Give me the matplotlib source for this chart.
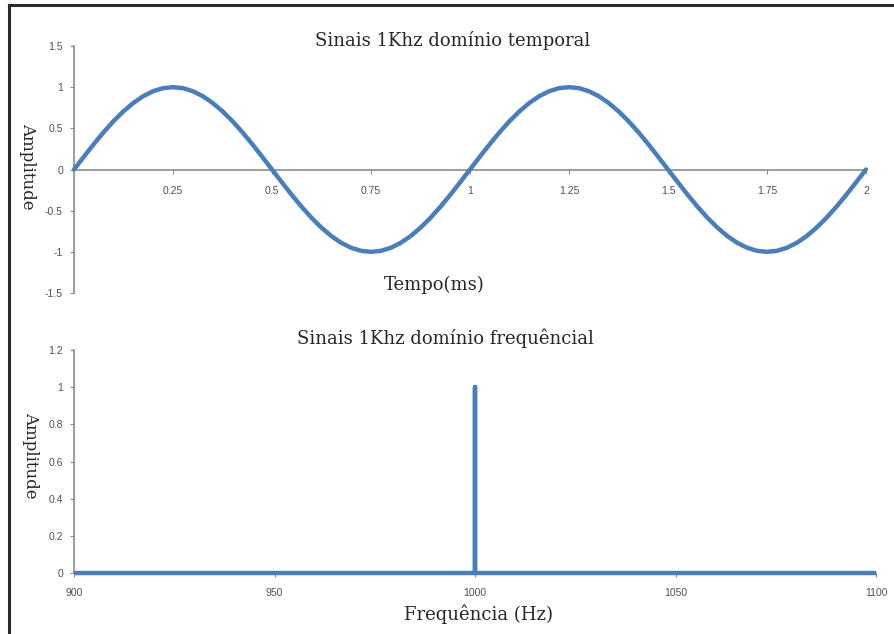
import numpy as np
import matplotlib
matplotlib.use("Agg")
import matplotlib.pyplot as plt
from matplotlib.lines import Line2D

# ---- data ----
time_ms = np.round(np.arange(0, 2.0001, 0.025), 3)
amplitude_time = [
    0.0, 0.156, 0.309, 0.454, 0.588, 0.707, 0.809, 0.891, 0.951, 0.988,
    1.0, 0.988, 0.951, 0.891, 0.809, 0.707, 0.588, 0.454, 0.309, 0.156,
    0.0, -0.156, -0.309, -0.454, -0.588, -0.707, -0.809, -0.891, -0.951, -0.988,
    -1.0, -0.988, -0.951, -0.891, -0.809, -0.707, -0.588, -0.454, -0.309, -0.156,
    0.0, 0.156, 0.309, 0.454, 0.588, 0.707, 0.809, 0.891, 0.951, 0.988,
    1.0, 0.988, 0.951, 0.891, 0.809, 0.707, 0.588, 0.454, 0.309, 0.156,
    0.0, -0.156, -0.309, -0.454, -0.588, -0.707, -0.809, -0.891, -0.951, -0.988,
    -1.0, -0.988, -0.951, -0.891, -0.809, -0.707, -0.588, -0.454, -0.309, -0.156,
    0.0,
]
freq_hz = [900, 1000, 1000, 1000, 1100]
amplitude_freq = [0, 0, 1, 0, 0]

time_ticks = [0.25, 0.5, 0.75, 1, 1.25, 1.5, 1.75, 2]
time_tick_labels = ["0.25", "0.5", "0.75", "1", "1.25", "1.5", "1.75", "2"]
amp_ticks_top = [-1.5, -1, -0.5, 0, 0.5, 1, 1.5]
amp_labels_top = ["-1.5", "-1", "-0.5", "0", "0.5", "1", "1.5"]
freq_ticks = [900, 950, 1000, 1050, 1100]
freq_tick_labels = ["900", "950", "1000", "1050", "1100"]
amp_ticks_bot = [0, 0.2, 0.4, 0.6, 0.8, 1.0, 1.2]
amp_labels_bot = ["0", "0.2", "0.4", "0.6", "0.8", "1", "1.2"]

title_top = "Sinais 1Khz domínio temporal"
title_bot = "Sinais 1Khz domínio frequêncial"
xlabel_top = "Tempo(ms)"
xlabel_bot = "Frequência (Hz)"
ylabel = "Amplitude"

# ---- style ----
W, H = 894, 634
LINE_C = "#4a7ebb"
AXIS_C = "#8c8c8c"
TICK_TXT = "#505050"
TXT_C = "#262626"
SERIF = "DejaVu Serif"
SANS = "Liberation Sans"
TICK_FS = 7.5

fig = plt.figure(figsize=(W / 100, H / 100), dpi=100)
fig.patch.set_facecolor("white")

def fx(px):
    return px / W

def fy(py):
    return 1 - py / H

# top axes
ax1 = fig.add_axes([fx(74), fy(293), fx(866) - fx(74), fy(46) - fy(293)])
ax1.plot(time_ms, amplitude_time, color=LINE_C, lw=3.2, clip_on=False,
         solid_capstyle="round", solid_joinstyle="round", zorder=3)
ax1.set_xlim(0, 2)
ax1.set_ylim(-1.5, 1.5)
for s in ["top", "right"]:
    ax1.spines[s].set_visible(False)
ax1.spines["bottom"].set_position(("data", 0))
for s in ["left", "bottom"]:
    ax1.spines[s].set_color(AXIS_C)
    ax1.spines[s].set_linewidth(1.2)
ax1.set_xticks(time_ticks)
ax1.set_xticklabels(time_tick_labels)
ax1.set_yticks(amp_ticks_top)
ax1.set_yticklabels(amp_labels_top)
ax1.tick_params(axis="x", direction="out", length=3, color=AXIS_C, pad=9,
                labelsize=TICK_FS, labelcolor=TICK_TXT)
ax1.tick_params(axis="y", direction="out", length=3, color=AXIS_C, pad=5,
                labelsize=TICK_FS, labelcolor=TICK_TXT)
for lab in ax1.get_xticklabels() + ax1.get_yticklabels():
    lab.set_fontfamily(SANS)

# bottom axes
ax2 = fig.add_axes([fx(74), fy(573), fx(876) - fx(74), fy(350) - fy(573)])
ax2.plot(freq_hz, amplitude_freq, color=LINE_C, lw=3.2, clip_on=False,
         solid_capstyle="butt", zorder=3)
ax2.set_xlim(900, 1100)
ax2.set_ylim(0, 1.2)
for s in ["top", "right"]:
    ax2.spines[s].set_visible(False)
for s in ["left", "bottom"]:
    ax2.spines[s].set_color(AXIS_C)
    ax2.spines[s].set_linewidth(1.2)
ax2.set_xticks(freq_ticks)
ax2.set_xticklabels(freq_tick_labels)
ax2.set_yticks(amp_ticks_bot)
ax2.set_yticklabels(amp_labels_bot)
ax2.tick_params(axis="x", direction="out", length=3, color=AXIS_C, pad=8,
                labelsize=TICK_FS, labelcolor=TICK_TXT)
ax2.tick_params(axis="y", direction="out", length=3, color=AXIS_C, pad=5,
                labelsize=TICK_FS, labelcolor=TICK_TXT)
for lab in ax2.get_xticklabels() + ax2.get_yticklabels():
    lab.set_fontfamily(SANS)

# texts
fig.text(fx(453), fy(40), title_top, ha="center", va="center",
         family=SERIF, fontsize=13, color=TXT_C)
fig.text(fx(434), fy(285), xlabel_top, ha="center", va="center",
         family=SERIF, fontsize=13, color=TXT_C)
fig.text(fx(28), fy(166), ylabel, ha="center", va="center", rotation=-90,
         family=SERIF, fontsize=12, color=TXT_C)
fig.text(fx(445), fy(338), title_bot, ha="center", va="center",
         family=SERIF, fontsize=13, color=TXT_C)
fig.text(fx(478), fy(614), xlabel_bot, ha="center", va="center",
         family=SERIF, fontsize=13, color=TXT_C)
fig.text(fx(31), fy(455), ylabel, ha="center", va="center", rotation=-90,
         family=SERIF, fontsize=12, color=TXT_C)

# frame on left and top
fig.add_artist(Line2D([fx(9), fx(9)], [0, fy(5)], color="#2a2a2a", lw=2.2))
fig.add_artist(Line2D([fx(9), 1], [fy(5), fy(5)], color="#2a2a2a", lw=2.2))

fig.savefig("out.png", dpi=100, facecolor="white")
